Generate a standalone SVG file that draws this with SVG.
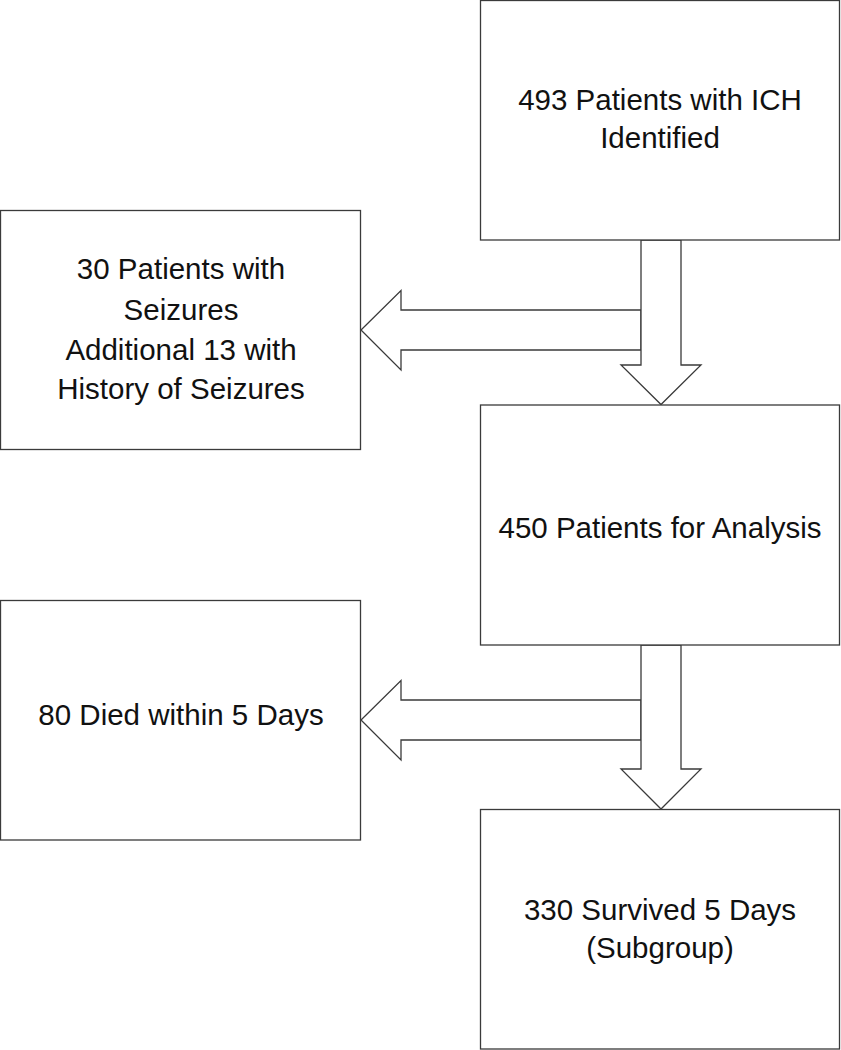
<svg xmlns="http://www.w3.org/2000/svg" width="841" height="1050" viewBox="0 0 841 1050">
<style>
.box{fill:#fff;stroke:#3a3a3a;stroke-width:1.3}
.arr{fill:#fff;stroke:#3a3a3a;stroke-width:1.3;stroke-linejoin:miter}
text{font-family:"Liberation Sans",Arial,sans-serif;font-size:29.5px;fill:#111;text-anchor:middle}
</style>
<rect width="841" height="1050" fill="#fff"/>
<g id="connectors">
<polygon class="arr" points="641,310 401,310 401,290.5 361,330 401,370 401,350 641,350"/>
<polygon class="arr" points="641,240 681,240 681,365 701,365 661,404.5 621,365 641,365"/>
<polygon class="arr" points="641,700 401,700 401,680.5 361,720 401,760 401,740 641,740"/>
<polygon class="arr" points="641,645 681,645 681,769 701,769 661,809 621,769 641,769"/>
</g>
<g id="n1">
<rect class="box" x="480.5" y="0.5" width="359" height="239.5"/>
<text x="660" y="110">493 Patients with ICH</text>
<text x="660" y="148">Identified</text>
</g>
<g id="n2">
<rect class="box" x="0.5" y="210.5" width="360" height="239"/>
<text x="181" y="279">30 Patients with</text>
<text x="181" y="320">Seizures</text>
<text x="181" y="360">Additional 13 with</text>
<text x="181" y="399">History of Seizures</text>
</g>
<g id="n3">
<rect class="box" x="480.5" y="405" width="359" height="240"/>
<text x="660" y="538">450 Patients for Analysis</text>
</g>
<g id="n4">
<rect class="box" x="0.5" y="600.5" width="360" height="239.5"/>
<text x="181" y="725">80 Died within 5 Days</text>
</g>
<g id="n5">
<rect class="box" x="480.5" y="809.5" width="359" height="239.5"/>
<text x="660" y="920">330 Survived 5 Days</text>
<text x="660" y="958">(Subgroup)</text>
</g>
</svg>
